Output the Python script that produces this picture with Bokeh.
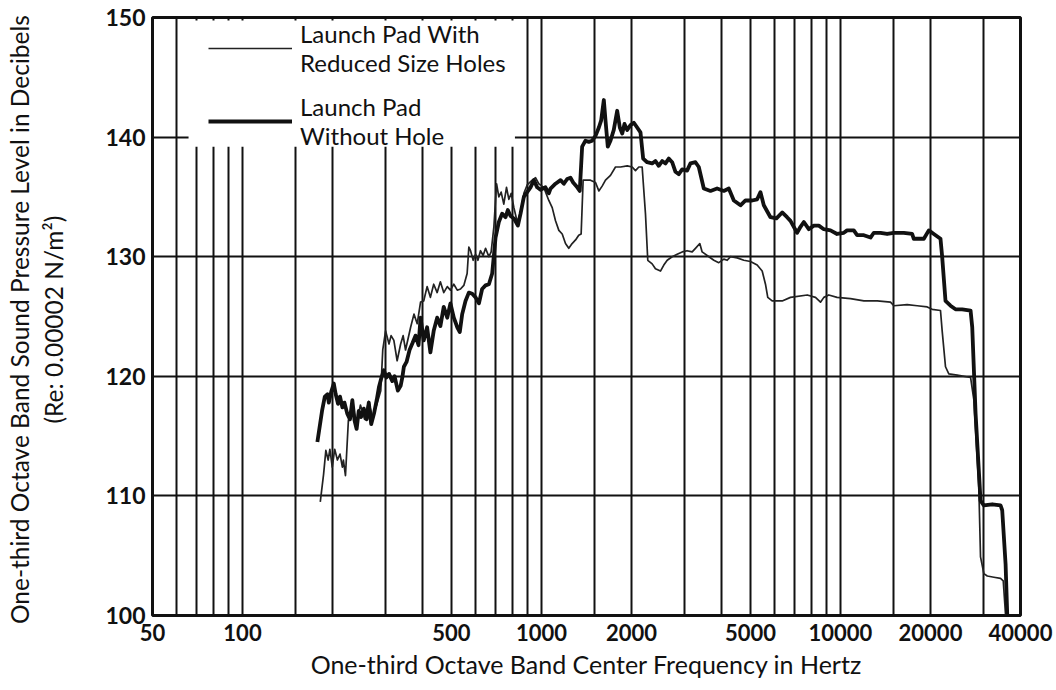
from bokeh.plotting import figure
from bokeh.models import (Range1d, FixedTicker, NumeralTickFormatter, Legend, LegendItem,
                          BoxAnnotation, ColumnDataSource)
from bokeh.embed import file_html
from bokeh.resources import INLINE

# ---------------- data ----------------
# Launch Pad With Reduced Size Holes (thin line)
thin_freq = [182, 186.7, 190, 193.4, 196, 199.6, 203.4, 207.7, 211.9, 215.8, 217.5, 221,
             226, 233.6, 240.8, 248, 256, 264, 272, 281, 290, 294.5, 301, 309, 314, 320.8,
             329, 338, 344.5, 351, 365, 374.5, 384, 394, 403.7, 414.4, 425, 436, 447.8, 459,
             471, 484, 496, 509, 522.8, 536, 549.8, 564, 571.5, 579, 591, 602, 612.8, 625,
             638, 650, 667, 678.6, 693, 707.4, 720, 733, 748, 763.8, 777.8, 792, 808.5, 829.6,
             851, 873, 895.5, 931, 955, 979, 1017.6, 1058, 1086, 1114, 1143, 1173, 1203,
             1233.7, 1266, 1300, 1332, 1357, 1378, 1403, 1458, 1516, 1555, 1595.5, 1637,
             1701, 1768, 1838, 1935, 2011, 2062, 2116, 2171, 2227, 2267, 2345, 2405, 2500,
             2565, 2633, 2735, 2843, 2955, 3068, 3191, 3273, 3384, 3446, 3582, 3771, 3917,
             4072, 4179, 4287, 4514, 4750, 5000, 5264, 5471, 5612, 5712, 5909, 6382, 6804,
             7741, 8248, 8573, 8796, 9139, 9740, 10800, 11973, 13270, 14700, 15082, 16710,
             18050, 19500, 20260, 21600, 21881, 22450, 23030, 24570, 27230, 27940, 29020,
             29400, 30164, 30970, 32590, 34300, 35020, 35660]
thin_db = [109.5, 111.8, 113.8, 113.0, 113.9, 112.4, 113.9, 113.0, 113.5, 112.4, 113.0, 111.7,
           116.3, 117.5, 116.0, 117.6, 116.4, 117.9, 116.6, 117.6, 118.8, 122.2, 123.8, 122.7,
           123.4, 123.0, 121.3, 122.7, 123.4, 122.2, 124.1, 125.2, 124.4, 126.2, 126.3, 127.5,
           126.6, 127.7, 127.0, 127.9, 127.0, 127.5, 127.2, 127.7, 127.2, 127.3, 127.6, 128.6,
           130.8, 130.5, 129.7, 130.2, 129.7, 130.5, 130.1, 130.7, 130.0, 130.4, 132.5, 136.1,
           135.0, 135.4, 134.4, 135.8, 134.8, 135.3, 134.1, 132.9, 133.7, 135.3, 136.0, 136.4,
           136.6, 136.1, 135.8, 134.7, 134.1, 133.0, 132.2, 131.9, 131.1, 130.7, 131.1, 131.4,
           131.8, 131.9, 136.4, 136.4, 136.4, 136.2, 135.5, 135.9, 136.4, 136.8, 137.5, 137.5,
           137.6, 137.5, 137.2, 137.5, 137.5, 133.6, 129.7, 129.4, 129.0, 128.8, 129.3, 129.7,
           130.0, 130.2, 130.4, 130.5, 130.4, 130.7, 131.1, 130.4, 130.1, 129.7, 129.5, 129.8,
           129.7, 130.0, 129.9, 129.7, 129.6, 129.3, 128.8, 127.7, 126.6, 126.3, 126.3, 126.6,
           126.8, 126.6, 126.2, 126.6, 126.8, 126.6, 126.5, 126.3, 126.3, 126.2, 125.9, 126.0,
           125.9, 125.8, 125.6, 125.5, 123.8, 120.8, 120.2, 120.1, 119.9, 118.0, 110.7, 104.9,
           103.5, 103.3, 103.2, 103.1, 102.9, 100.0]

# Launch Pad Without Hole (thick line)
thick_freq = [178, 184.5, 188.5, 192.5, 194.4, 198, 202, 205, 208.7, 211.9, 215.8, 219.3, 223.9,
              228.8, 233, 237, 240.8, 244.8, 249.3, 254.6, 260, 264.5, 269.4, 275.4, 281, 286,
              291.6, 297, 303, 309, 317, 322.5, 330.8, 338, 342.4, 346.5, 353.7, 362, 370.7,
              379, 388, 394, 403.7, 414.4, 425, 436, 447.8, 459, 471, 484, 496, 509, 522.8,
              533, 543, 557, 571.5, 586.6, 602, 617.7, 633, 650, 667, 684, 702, 720, 738.5,
              758, 771.6, 788, 808.5, 833.7, 851, 873, 895.5, 919, 943, 967.4, 992, 1031, 1058,
              1072, 1114, 1158, 1188, 1218.6, 1250, 1276, 1317, 1342.7, 1367.6, 1403, 1439.5,
              1477, 1516, 1555.4, 1583.5, 1616, 1637, 1666, 1701, 1745, 1791, 1828, 1862, 1895,
              1935, 1985, 2036.6, 2089, 2143, 2188, 2256, 2345, 2405, 2467, 2533, 2598, 2665,
              2735, 2806, 2879, 2955, 3068, 3150, 3273, 3358, 3490, 3675, 3866, 4072, 4231,
              4398, 4630, 4811, 5066, 5264, 5400, 5540, 5832, 6105, 6382, 6627, 6804, 6980,
              7159, 7350, 7541, 7835, 8144, 8462, 8796, 9259, 9740, 10260, 10520, 11080, 11367,
              11973, 12600, 12927, 13610, 14318, 15082, 16283, 17363, 17586, 19002, 19740,
              20520, 21600, 21881, 22450, 23330, 24250, 25528, 27230, 27584, 28300, 29400,
              30164, 32173, 34300, 34746, 35660, 36124]
thick_db = [114.5, 117.1, 118.3, 118.5, 117.8, 118.7, 119.4, 118.5, 117.7, 118.3, 117.4, 117.8,
            116.9, 116.4, 118.0, 116.3, 115.6, 117.1, 116.6, 117.3, 116.4, 117.8, 116.0, 116.9,
            118.0, 119.1, 119.9, 120.5, 119.9, 120.2, 119.6, 120.0, 118.8, 119.2, 119.9, 120.8,
            121.2, 122.2, 122.8, 123.4, 122.6, 124.9, 123.0, 124.1, 122.0, 123.8, 124.9, 124.2,
            125.8, 124.9, 126.1, 124.9, 124.1, 123.7, 125.2, 126.3, 127.0, 126.9, 126.6, 126.1,
            127.3, 127.6, 127.7, 128.6, 131.6, 132.9, 133.6, 133.3, 133.9, 133.4, 133.2, 132.6,
            133.6, 135.0, 135.4, 135.8, 136.4, 135.8, 135.6, 135.8, 135.3, 135.7, 136.1, 136.4,
            136.1, 136.5, 136.6, 136.2, 135.8, 135.5, 139.2, 139.7, 139.6, 139.7, 140.1, 140.8,
            141.4, 143.1, 141.4, 139.2, 139.7, 140.6, 142.2, 140.8, 140.3, 141.1, 140.6, 141.0,
            141.2, 140.8, 140.4, 138.2, 137.9, 137.8, 138.0, 137.6, 138.0, 137.8, 138.2, 137.9,
            137.1, 136.9, 137.3, 137.2, 137.8, 137.9, 137.5, 135.7, 135.5, 135.7, 135.5, 135.7,
            134.7, 134.3, 134.7, 134.7, 134.8, 135.4, 134.3, 133.3, 133.2, 133.7, 133.3, 133.0,
            132.5, 132.0, 132.5, 132.9, 132.3, 132.6, 132.6, 132.3, 132.2, 131.9, 132.0, 132.2,
            132.2, 131.8, 131.8, 131.6, 132.0, 132.0, 131.9, 132.0, 132.0, 131.9, 131.5, 131.5,
            132.2, 131.9, 131.5, 130.0, 126.3, 125.9, 125.6, 125.6, 125.5, 124.1, 116.9, 109.6,
            109.2, 109.3, 109.2, 108.8, 104.3, 100.0]

x_tick_values = [50, 100, 500, 1000, 2000, 5000, 10000, 20000, 40000]
x_grid_values = [60, 70, 80, 90, 100, 150, 200, 300, 400, 500, 600, 700, 800, 900, 1000,
                 1500, 2000, 3000, 4000, 5000, 6000, 7000, 8000, 9000, 10000, 15000,
                 20000, 30000]
y_tick_values = [100, 110, 120, 130, 140, 150]
y_grid_values = [110, 120, 130, 140]

legend_labels = ["Launch Pad With\nReduced Size Holes", "Launch Pad\nWithout Hole"]
x_title = "One-third Octave Band Center Frequency in Hertz"
y_title = "One-third Octave Band Sound Pressure Level  in Decibels\n(Re:  0.00002 N/m\u00b2)"

# ---------------- figure ----------------
FONT = "Lato"
p = figure(width=1054, height=688, x_axis_type="log",
           x_range=Range1d(50, 40000), y_range=Range1d(100, 150),
           output_backend="svg", toolbar_location=None,
           min_border_left=152, min_border_right=34, min_border_top=17, min_border_bottom=73)
p.background_fill_color = "white"
p.border_fill_color = "white"
p.outline_line_color = "#111111"
p.outline_line_width = 3

for ax in (p.xaxis[0], p.yaxis[0]):
    ax.axis_line_color = None
    ax.major_tick_line_color = None
    ax.minor_tick_line_color = None
    ax.major_tick_out = 0
    ax.major_tick_in = 0
    ax.minor_tick_out = 0
    ax.major_label_text_font = FONT
    ax.major_label_text_font_style = "bold"
    ax.major_label_text_color = "#111111"
    ax.axis_label_text_font = FONT
    ax.axis_label_text_font_style = "normal"
    ax.axis_label_text_color = "#111111"

p.xaxis.ticker = FixedTicker(ticks=x_tick_values)
p.xaxis.formatter = NumeralTickFormatter(format="0")
p.xaxis.major_label_text_font_size = "22px"
p.xaxis.major_label_standoff = 8
p.xaxis.axis_label = x_title
p.xaxis.axis_label_text_font_size = "25px"
p.xaxis.axis_label_standoff = 5

p.yaxis.ticker = FixedTicker(ticks=y_tick_values)
p.yaxis.major_label_text_font_size = "23px"
p.yaxis.major_label_standoff = 7
p.yaxis.axis_label = y_title
p.yaxis.axis_label_text_font_size = "24.5px"
p.yaxis.axis_label_standoff = 34

p.xgrid.ticker = FixedTicker(ticks=x_grid_values)
p.ygrid.ticker = FixedTicker(ticks=y_grid_values)
for g in (p.xgrid[0], p.ygrid[0]):
    g.grid_line_color = "#111111"
    g.grid_line_width = 2
    g.grid_line_alpha = 1.0

# white area behind the legend (grid lines interrupted there)
p.add_layout(BoxAnnotation(left=66, right=815, bottom=139.2, top=149.75,
                           fill_color="white", fill_alpha=1.0, line_color=None,
                           level="underlay"))

thin_src = ColumnDataSource(dict(f=thin_freq, db=thin_db))
thick_src = ColumnDataSource(dict(f=thick_freq, db=thick_db))
r_thin = p.line("f", "db", source=thin_src, line_color="#222222", line_width=1.7,
                line_join="round")
r_thick = p.line("f", "db", source=thick_src, line_color="#111111", line_width=3.8,
                 line_join="round")

legend = Legend(items=[LegendItem(label=legend_labels[0], renderers=[r_thin]),
                       LegendItem(label=legend_labels[1], renderers=[r_thick])],
                location=(56, 465), padding=0, margin=0, spacing=15,
                glyph_width=84, glyph_height=58, label_height=58, label_standoff=8,
                label_text_font=FONT, label_text_font_size="24px",
                label_text_line_height=1.2, label_text_color="#111111",
                background_fill_alpha=0, border_line_color=None)
p.add_layout(legend)

open("out.html", "w").write(file_html(p, INLINE))
